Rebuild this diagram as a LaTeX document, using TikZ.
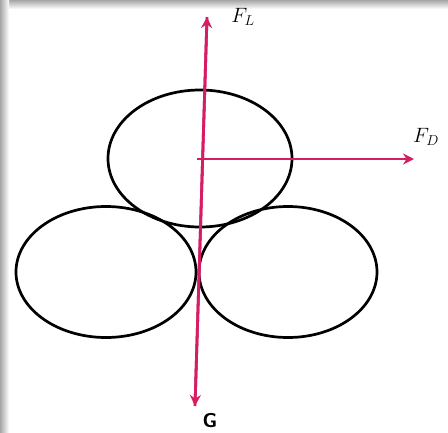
\documentclass[tikz,border=0pt]{standalone}
\usetikzlibrary{shapes.geometric,arrows.meta}
\definecolor{force}{RGB}{214,28,98}
\begin{document}
\begin{tikzpicture}[x=1pt,y=-1pt,
  ball/.style={draw=black,line width=2.7pt,shape=ellipse,inner sep=0pt},
  forcearrow/.style={draw=force,line width=2.8pt,-{Stealth[length=11pt,width=11pt]}},
  lbl/.style={inner sep=0pt,font=\fontsize{20}{24}\selectfont}]
\useasboundingbox (0,0) rectangle (448,432);
\fill[white] (0,0) rectangle (448,432);
% frame shadow
\shade[top color=black!35,bottom color=white] (0,0) rectangle (448,9);
\shade[left color=black!35,right color=white] (0,0) rectangle (9,432);
% balls
\node[ball,minimum width=184pt,minimum height=137pt] (top) at (200,158.5) {};
\node[ball,minimum width=180pt,minimum height=131pt] (left) at (106,272) {};
\node[ball,minimum width=178pt,minimum height=131pt] (right) at (288,272) {};
% force lines
\coordinate (c) at (197,159);
\coordinate (ltop) at (207,17);
\coordinate (gbot) at (195,406);
\coordinate (dend) at (414,159);
\draw[forcearrow] (gbot) -- (ltop);
\draw[forcearrow] (ltop) -- (gbot);
\draw[forcearrow] (c) -- (dend);
% labels
\node[lbl] (FL) at (243,17) {$F_L$};
\node[lbl] (FD) at (426,137) {$F_D$};
\node[inner sep=0pt,font=\fontsize{20}{24}\selectfont\sffamily\bfseries] (G) at (210,421) {G};
\end{tikzpicture}
\end{document}
